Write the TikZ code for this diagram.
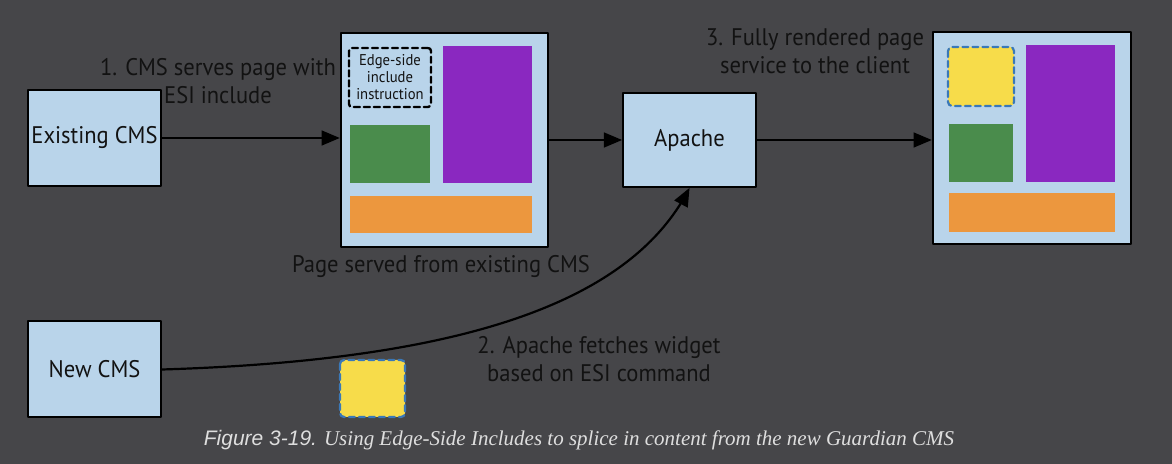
\documentclass[tikz,border=0pt]{standalone}
\usepackage{fontspec}
\setmainfont{PT Sans}[FakeStretch=0.94]
\newfontfamily\capsans{Liberation Sans}
\newfontfamily\capserif{Liberation Serif}
\usepackage{xcolor}
\usetikzlibrary{arrows}
\usetikzlibrary{arrows.meta,positioning}

\definecolor{bgcol}{RGB}{70,70,73}
\definecolor{boxblue}{RGB}{185,212,234}
\definecolor{blockgreen}{RGB}{74,140,76}
\definecolor{blockpurple}{RGB}{138,40,192}
\definecolor{blockorange}{RGB}{236,151,62}
\definecolor{widgetyellow}{RGB}{247,220,74}
\definecolor{widgetblue}{RGB}{58,120,184}
\definecolor{labelcol}{RGB}{18,18,18}
\definecolor{capcol}{RGB}{222,222,222}

\tikzset{
  sysbox/.style={draw=black,line width=1pt,fill=boxblue,minimum width=66.5pt,minimum height=48pt,inner sep=0pt,text=labelcol,font=\fontsize{12}{14}\selectfont},
  pagebox/.style={draw=black,line width=1.3pt,fill=boxblue,inner sep=0pt},
  esibox/.style={draw=black,line width=1.2pt,dashed,dash pattern=on 3pt off 2pt,rounded corners=1.5pt,minimum width=41pt,minimum height=29.5pt,inner sep=0pt,align=center,text=labelcol,font=\fontsize{7.8}{8.5}\selectfont},
  widgetbox/.style={draw=widgetblue,line width=1.1pt,dash pattern=on 3pt off 2pt,rounded corners=2pt,fill=widgetyellow},
  steplabel/.style={align=center,text=labelcol,font=\fontsize{12}{14}\selectfont},
  flow/.style={->,line width=1.1pt,draw=black}
}

\begin{document}
\begin{tikzpicture}[line cap=round,line join=round,>=triangle 45,x=0.5pt,y=-0.5pt]
                \fill [bgcol] (0,0) rectangle (1172,464);
                \useasboundingbox (0,0) rectangle (1172,464);
                % systems
                \node [sysbox] (existing) at (94.5,138) {Existing CMS};
                \node [sysbox,minimum height=47pt] (apache) at (689.5,140) {Apache};
                \node [sysbox] (newcms) at (94.5,369.5) {New CMS};
                % page served from existing CMS
                \node [pagebox,minimum width=103.5pt,minimum height=107pt] (page) at (444.5,140) {};
                \fill [blockpurple] (443,46) rectangle (532,183);
                \fill [blockgreen] (350,125) rectangle (430,183);
                \fill [blockorange] (350,196) rectangle (532,233);
                \node [esibox] (esi) at (390,77.5) {Edge-side\\include\\instruction};
                % fully rendered page
                \node [pagebox,minimum width=99pt,minimum height=106pt] (rendered) at (1032,138) {};
                \draw [widgetbox] (948,47) rectangle (1014,106);
                \fill [blockpurple] (1026,45) rectangle (1115,182);
                \fill [blockgreen] (949,124) rectangle (1013,182);
                \fill [blockorange] (949,193) rectangle (1115,232);
                % widget from the new CMS
                \draw [widgetbox] (340,360) rectangle (405,417);
                % connectors
                \draw [flow] (existing.east) -- (existing.east -| page.west);
                \draw [flow] (apache.west -| page.east) -- (apache.west);
                \draw [flow] (apache.east) -- (apache.east -| rendered.west);
                \draw [flow] (newcms.east) .. controls (470,360) and (630,300) .. (apache.south);
                % labels
                \node [steplabel] (lblserve) at (218,81) {1. CMS serves page with\\ESI include};
                \node [steplabel] (lblrender) at (815,51) {3. Fully rendered page\\service to the client};
                \node [steplabel] (lblpage) at (441,267) {Page served from existing CMS};
                \node [steplabel] (lblfetch) at (599,359) {2. Apache fetches widget\\based on ESI command};
                \node [text=capcol,font=\fontsize{10.5}{12}\selectfont] (caption) at (579,440) {{\capsans\itshape Figure 3-19.} {\capserif\itshape Using Edge-Side Includes to splice in content from the new Guardian CMS}};
            \end{tikzpicture}
\end{document}
